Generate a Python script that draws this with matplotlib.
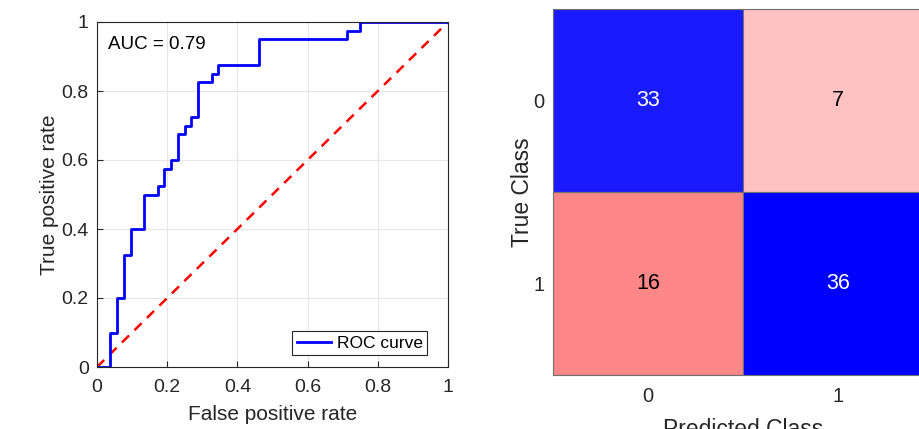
import matplotlib
matplotlib.use("Agg")
import matplotlib.pyplot as plt
import numpy as np

plt.rcParams['font.family'] = ['Liberation Sans', 'DejaVu Sans']

# ROC step vertices (steps-post)
fpr = [0, 0.038, 0.058, 0.077, 0.096, 0.135, 0.173, 0.192, 0.212, 0.231,
       0.25, 0.269, 0.288, 0.327, 0.346, 0.462, 0.712, 0.75, 1.0]
tpr = [0, 0.1, 0.2, 0.325, 0.4, 0.5, 0.525, 0.575, 0.6, 0.675,
       0.7, 0.725, 0.825, 0.85, 0.875, 0.95, 0.975, 1.0, 1.0]
auc_value = 0.79

# confusion matrix
class_labels = ["0", "1"]
conf_counts = [[33, 7], [16, 36]]
cell_colors = [["#1a1aff", "#ffc1c1"], ["#ff8787", "#0000ff"]]
text_colors = [["white", "black"], ["black", "white"]]

W, H = 920, 429
fig = plt.figure(figsize=(W / 100, H / 100), dpi=100)
axis_gray = "#262626"

# ---- ROC ----
ax1 = fig.add_axes([97 / W, 1 - 367 / H, 351 / W, 345 / H])
ax1.plot([0, 1], [0, 1], "--", color="red", lw=1.8, dashes=(4, 3))
ax1.plot(fpr, tpr, drawstyle="steps-post", color="blue", lw=2, label="ROC curve")
ax1.set_xlim(0, 1)
ax1.set_ylim(0, 1)
ax1.set_xticks(np.arange(0, 1.01, 0.2))
ax1.set_yticks(np.arange(0, 1.01, 0.2))
ax1.set_xticklabels(["0", "0.2", "0.4", "0.6", "0.8", "1"])
ax1.set_yticklabels(["0", "0.2", "0.4", "0.6", "0.8", "1"])
ax1.grid(True, color="#e6e6e6", lw=0.8)
ax1.set_axisbelow(True)
ax1.tick_params(direction="in", length=4, labelsize=14, colors=axis_gray)
ax1.tick_params(axis="x", pad=9)
ax1.tick_params(axis="y", pad=6)
for s in ax1.spines.values():
    s.set_color(axis_gray)
    s.set_linewidth(0.8)
ax1.set_xlabel("False positive rate", fontsize=15, color=axis_gray, labelpad=6)
ax1.set_ylabel("True positive rate", fontsize=15, color=axis_gray, labelpad=2)
ax1.text(0.03, 0.935, "AUC = %.2f" % auc_value, transform=ax1.transAxes,
         fontsize=13.5, color="black", va="center")
leg = ax1.legend(loc="lower right", fontsize=12.5, fancybox=False, framealpha=1,
                 handlelength=2.0, handletextpad=0.3, borderpad=0.25,
                 borderaxespad=0, bbox_to_anchor=(0.94, 0.035))
leg.get_frame().set_edgecolor(axis_gray)
leg.get_frame().set_linewidth(0.8)

# ---- confusion chart ----
ax2 = fig.add_axes([553 / W, 1 - 375 / H, 380 / W, 366 / H])
n = len(class_labels)
for i in range(n):
    for j in range(n):
        ax2.add_patch(plt.Rectangle((j - 0.5, i - 0.5), 1, 1,
                                    facecolor=cell_colors[i][j],
                                    edgecolor="#707070", lw=0.8))
        ax2.text(j, i, str(conf_counts[i][j]), ha="center", va="center",
                 fontsize=15.5, color=text_colors[i][j])
ax2.set_xlim(-0.5, n - 0.5)
ax2.set_ylim(n - 0.5, -0.5)
ax2.set_xticks(range(n))
ax2.set_yticks(range(n))
ax2.set_xticklabels(class_labels)
ax2.set_yticklabels(class_labels)
ax2.tick_params(length=0, labelsize=14.5, colors=axis_gray)
ax2.tick_params(axis="y", pad=6)
ax2.tick_params(axis="x", pad=9)
for s in ax2.spines.values():
    s.set_color("#707070")
    s.set_linewidth(0.8)
ax2.set_xlabel("Predicted Class", fontsize=16.5, color=axis_gray, labelpad=8)
ax2.set_ylabel("True Class", fontsize=16.5, color=axis_gray, labelpad=0)

fig.savefig("out.png", dpi=100)
